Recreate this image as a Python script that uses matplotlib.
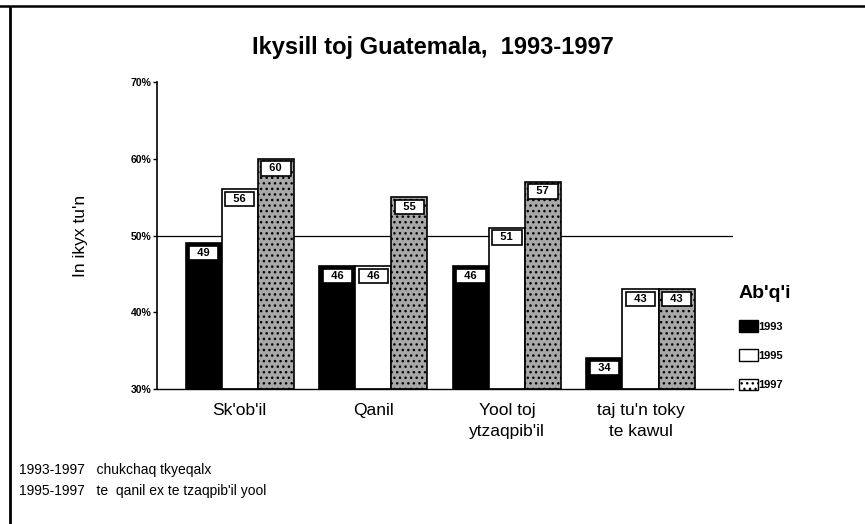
import matplotlib.pyplot as plt
import numpy as np
from matplotlib.lines import Line2D
from matplotlib.patches import Patch

plt.rcParams['font.family'] = ['Liberation Sans', 'DejaVu Sans']

# data
categories = ["Sk'ob'il", "Qanil", "Yool toj\nytzaqpib'il", "taj tu'n toky\nte kawul"]
years = ["1993", "1995", "1997"]
v1993 = [49, 46, 46, 34]
v1995 = [56, 46, 51, 43]
v1997 = [60, 55, 57, 43]
y_ticks = [30, 40, 50, 60, 70]
notes = ["1993-1997   chukchaq tkyeqalx",
         "1995-1997   te  qanil ex te tzaqpib'il yool"]

fig = plt.figure(figsize=(8.65, 5.24), dpi=100)
ax = fig.add_axes([0.1815, 0.2576, 0.6655, 0.5859])

x = np.arange(len(categories))
w = 0.27
series = [v1993, v1995, v1997]
styles = [dict(color='black', edgecolor='black'),
          dict(color='white', edgecolor='black'),
          dict(color='#a8a8a8', edgecolor='black', hatch='...')]

for i, (vals, st) in enumerate(zip(series, styles)):
    xs = x + (i - 1) * w
    ax.bar(xs, np.array(vals) - 30, width=w, bottom=30, linewidth=1.2, **st)
    for xi, v in zip(xs, vals):
        ax.text(xi, v - 0.6, f"  {v}  ", ha='center', va='top', fontsize=8,
                fontweight='bold', zorder=5,
                bbox=dict(boxstyle='square,pad=0.2', fc='white', ec='black', lw=1.2))

ax.axhline(50, color='black', lw=0.9, zorder=0)

ax.set_xlim(-0.62, 3.69)
ax.set_ylim(30, 70)
ax.set_yticks(y_ticks)
ax.set_yticklabels([f"{t}%" for t in y_ticks], fontsize=7.5, fontweight='bold')
ax.set_xticks(x)
ax.set_xticklabels(categories, fontsize=12.5, linespacing=1.5)
ax.tick_params(axis='x', length=0, pad=10)
ax.tick_params(axis='y', direction='out', length=3, width=1, pad=1)
for s in ['top', 'right']:
    ax.spines[s].set_visible(False)
ax.spines['left'].set_linewidth(1.2)
ax.spines['bottom'].set_linewidth(1.0)

ax.set_ylabel("In ikyx tu'n", fontsize=12.5, labelpad=31)

fig.text(0.5, 0.91, "Ikysill toj Guatemala,  1993-1997", ha='center', va='center',
         fontsize=17, fontweight='bold')

handles = [Patch(facecolor='black', edgecolor='black'),
           Patch(facecolor='white', edgecolor='black'),
           Patch(facecolor='white', edgecolor='black', hatch='...')]
leg = ax.legend(handles, years, title="Ab'q'i", loc='upper left',
                bbox_to_anchor=(0.845, 0.47), bbox_transform=fig.transFigure,
                frameon=False, prop=dict(size=8, weight='bold'),
                title_fontproperties=dict(size=14, weight='bold'),
                labelspacing=1.6, handlelength=1.7, handleheight=1.2,
                handletextpad=0.1, borderpad=0.2)
leg._legend_box.align = 'left'

for i, t in enumerate(notes):
    fig.text(0.022, 0.103 - i * 0.04, t, fontsize=10, va='center', ha='left')

# frame lines
fig.add_artist(Line2D([0, 1], [0.988, 0.988], color='black', lw=1.8))
fig.add_artist(Line2D([0.0116, 0.0116], [0, 0.985], color='black', lw=2))

fig.savefig('out.png', dpi=100)
